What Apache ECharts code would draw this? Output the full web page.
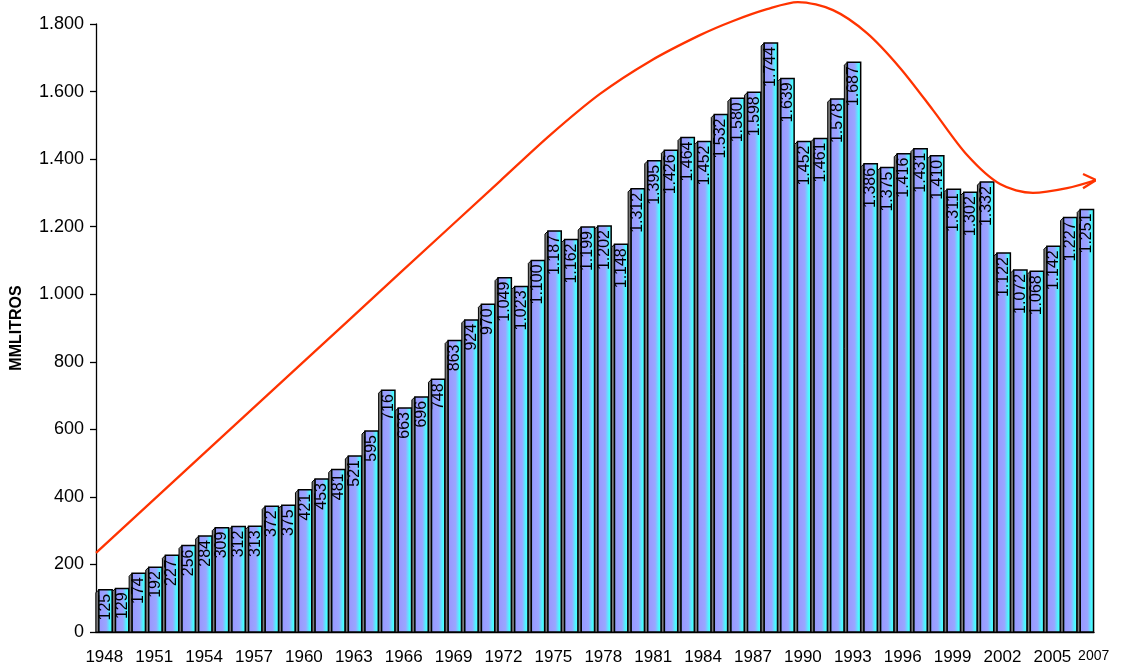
<!DOCTYPE html>
<html>
<head>
<meta charset="utf-8">
<script src="https://cdn.jsdelivr.net/npm/echarts@6/dist/echarts.min.js"></script>
<style>
  html, body { margin: 0; padding: 0; background: #fff; }
  #main { width: 1127px; height: 668px; }
</style>
</head>
<body>
<div id="main"></div>
<script>
// años 1948 - 2007
var years = [];
for (var y = 1948; y <= 2007; y++) years.push(String(y));

// MMLITROS por año
var volumen = [
  125, 129, 174, 192, 227, 256, 284, 309, 312, 313,
  372, 375, 421, 453, 481, 521, 595, 716, 663, 696,
  748, 863, 924, 970, 1049, 1023, 1100, 1187, 1162, 1199,
  1202, 1148, 1312, 1395, 1426, 1464, 1452, 1532, 1580, 1598,
  1744, 1639, 1452, 1461, 1578, 1687, 1386, 1375, 1416, 1431,
  1410, 1311, 1302, 1332, 1122, 1072, 1068, 1142, 1227, 1251
];

var yTicks = [0, 200, 400, 600, 800, 1000, 1200, 1400, 1600, 1800];

// flecha de tendencia (año, valor) - anotacion a mano alzada
var tendencia = [
  [1947.5, 234], [1953.75, 518], [1959.76, 790], [1965.78, 1063],
  [1971.79, 1335], [1974.8, 1471], [1977.8, 1593], [1980.81, 1690],
  [1983.81, 1767], [1985.8, 1809], [1987.84, 1844], [1989.7, 1865],
  [1991.81, 1841], [1993.85, 1773], [1995.84, 1670], [1997.82, 1545],
  [1999.87, 1412], [2001.85, 1326], [2003.83, 1300], [2005.88, 1314],
  [2007.62, 1338]
];
var punta = [[2006.84, 1356], [2007.62, 1338], [2006.84, 1314]];

var FONT = "'Liberation Sans', Arial, sans-serif";

function miles(v) {
  return String(v).replace(/\B(?=(\d{3})+(?!\d))/g, ".");
}

var barFill = new echarts.graphic.LinearGradient(0, 0, 1, 0, [
  { offset: 0, color: "#66e6ff" },
  { offset: 0.15, color: "#9999ff" },
  { offset: 0.55, color: "#9aa6ff" },
  { offset: 0.82, color: "#44ffff" },
  { offset: 1, color: "#77eeff" }
]);

// columna "3D": cara frontal + cara lateral izquierda
function renderBar(params, api) {
  var i = api.value(0);
  var v = api.value(1);
  var top = api.coord([i, v]);
  var base = api.coord([i, 0]);
  var w = api.size([1, 0])[0] * 0.8;
  var x0 = top[0] - w / 2 + 1.2;
  var d = 3;
  return {
    type: "group",
    children: [
      {
        type: "polygon",
        shape: { points: [[x0, top[1]], [x0 - d, top[1] + d], [x0 - d, base[1]], [x0, base[1]]] },
        style: { fill: "#7a7a7a", stroke: "#000", lineWidth: 1 }
      },
      {
        type: "rect",
        shape: { x: x0, y: top[1], width: w, height: base[1] - top[1] },
        style: { fill: barFill, stroke: "#000", lineWidth: 1.5 }
      },
      {
        type: "text",
        x: x0 + w / 2,
        y: top[1] + 4,
        rotation: Math.PI / 2,
        style: {
          text: miles(v),
          fill: "#000",
          fontSize: 16,
          fontFamily: FONT,
          align: "right",
          verticalAlign: "middle"
        }
      }
    ]
  };
}

var myChart = echarts.init(document.getElementById("main"));
var option = {
  animation: false,
  backgroundColor: "#fff",
  grid: { left: 96, right: 33, top: 24, bottom: 36 },
  xAxis: [
    {
      type: "category",
      data: years,
      axisLine: { lineStyle: { color: "#000", width: 1.3 } },
      axisTick: { interval: 0, length: 6, lineStyle: { color: "#000", width: 1.3 } },
      axisLabel: {
        interval: function (idx) { return idx % 3 === 0 || idx === years.length - 1; },
        formatter: function (val, idx) {
          return idx === years.length - 1 ? "{last|" + val + "}" : val;
        },
        rich: { last: { fontSize: 14, fontFamily: FONT, color: "#000", padding: [0, 0, 0, 16] } },
        color: "#000",
        fontSize: 17,
        fontFamily: FONT,
        margin: 17
      }
    },
    {
      type: "value",
      min: 1947.5,
      max: 2007.5,
      show: false
    }
  ],
  yAxis: {
    type: "value",
    min: 0,
    max: 1800,
    interval: 200,
    name: "MMLITROS",
    nameLocation: "middle",
    nameRotate: 90,
    nameGap: 71,
    nameTextStyle: { fontSize: 16, fontWeight: "bold", fontFamily: FONT, color: "#000" },
    splitLine: { show: false },
    axisLine: { show: true, lineStyle: { color: "#000", width: 1.3 } },
    axisTick: { show: true, length: 6, lineStyle: { color: "#000", width: 1.3 } },
    axisLabel: {
      color: "#000",
      fontSize: 18,
      fontFamily: FONT,
      margin: 12,
      formatter: function (v) { return yTicks.indexOf(v) >= 0 ? miles(v) : ""; }
    }
  },
  series: [
    {
      name: "MMLITROS",
      type: "custom",
      renderItem: renderBar,
      encode: { x: 0, y: 1 },
      data: volumen.map(function (v, i) { return [i, v]; }),
      z: 2
    },
    {
      type: "line",
      xAxisIndex: 1,
      data: tendencia,
      smooth: 0.3,
      clip: false,
      symbol: "none",
      lineStyle: { color: "#ff3300", width: 2.3 },
      z: 5
    },
    {
      type: "line",
      xAxisIndex: 1,
      data: punta,
      clip: false,
      symbol: "none",
      lineStyle: { color: "#ff3300", width: 2.3 },
      z: 5
    }
  ]
};
option && myChart.setOption(option);
</script>
</body>
</html>
